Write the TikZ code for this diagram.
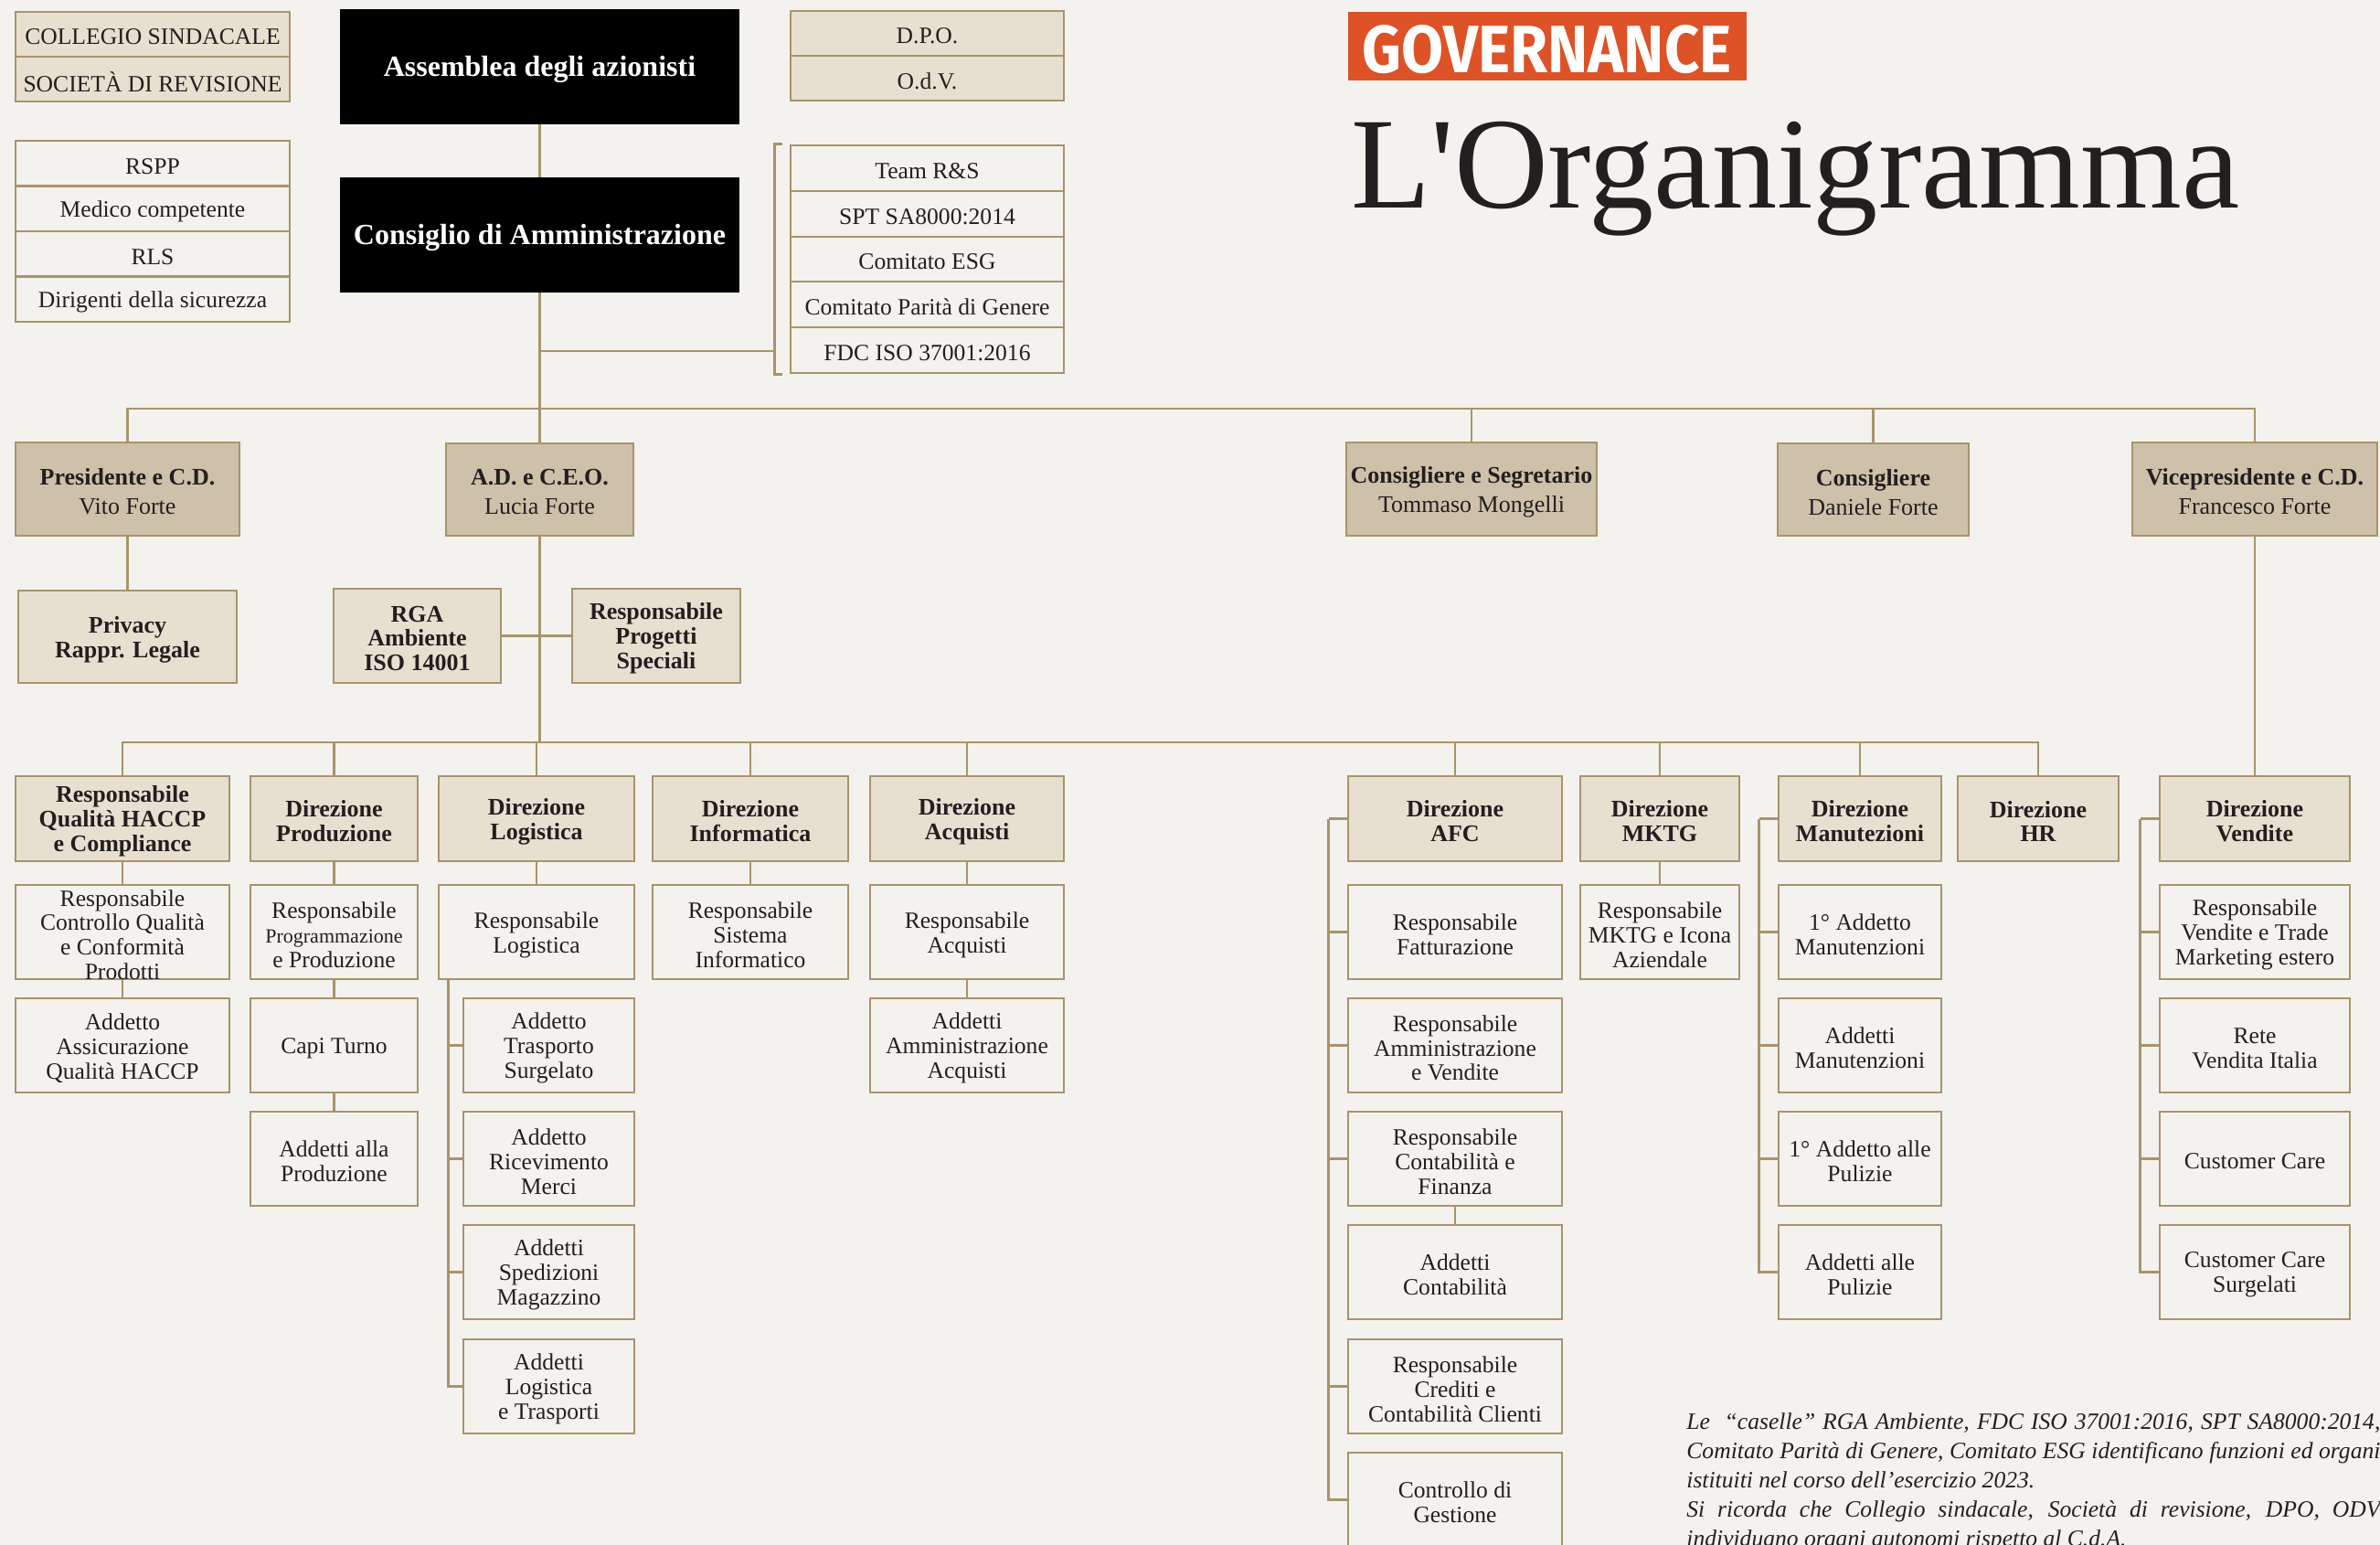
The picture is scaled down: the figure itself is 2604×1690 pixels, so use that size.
\documentclass[tikz,border=0pt]{standalone}
\usepackage{fontspec}
\setmainfont{Liberation Serif}
\setsansfont{Fira Sans}
\newfontfamily\titlefont{Liberation Serif}
\definecolor{bg}{RGB}{244,242,238}
\definecolor{tan}{RGB}{168,148,106}
\definecolor{beige}{RGB}{231,224,209}
\definecolor{khaki}{RGB}{206,193,170}
\definecolor{orng}{RGB}{221,82,38}
\definecolor{ink}{RGB}{35,31,32}
\newcommand\orgbox[7]{\node[#6, minimum width={(#4-#2)*0.5pt}, minimum height={(#5-#3)*0.5pt}] (#1) at ({(#2+#4)/2},{(#3+#5)/2}) {};
  \node[#6, draw=none, fill=none, yshift=-1.5pt] (#1t) at (#1.center) {#7};}
\begin{document}
\begin{tikzpicture}[x=0.5pt,y=-0.5pt,
  basebox/.style={inner sep=0pt, align=center, text=ink, draw=tan, line width=1.35pt},
  wbox/.style={basebox, fill=bg, font=\fontsize{12.8}{13.4}\selectfont},
  rbox/.style={basebox, fill=beige, font=\fontsize{12.8}{13.4}\selectfont},
  hbox/.style={basebox, fill=beige, font=\bfseries\fontsize{13}{13.4}\selectfont},
  kbox/.style={basebox, fill=khaki, font=\fontsize{13}{16}\selectfont},
  blk/.style={inner sep=0pt, align=center, fill=black, text=white, font=\bfseries\fontsize{16}{18}\selectfont},
  ln/.style={draw=tan, line width=1.2pt}]
\useasboundingbox (0,0) rectangle (2604,1690);
\clip (0,0) rectangle (2604,1690);
\fill[bg] (0,0) rectangle (2604,1690);

% title
\node[fill=orng, minimum width=218pt, minimum height=37.5pt, inner sep=0pt] (gov) at (1693,50.5) {};
\node[anchor=base, inner sep=0pt, text=white] (govt) at (1692.5,80) {\resizebox{202pt}{26pt}{\sffamily\bfseries GOVERNANCE}};
\node[anchor=base west, inner sep=0pt, text=ink] (title) at (1478,228) {\resizebox{486pt}{!}{\titlefont\fontsize{70}{70}\selectfont L'Organigramma}};

% top blocks
\orgbox{cs}{17}{13}{317}{62}{rbox}{COLLEGIO SINDACALE}
\orgbox{sr}{17}{62}{317}{111}{rbox}{SOCIETÀ DI REVISIONE}
\orgbox{rspp}{17}{154}{317}{203.5}{wbox}{RSPP}
\orgbox{mc}{17}{203.5}{317}{253}{wbox}{Medico competente}
\orgbox{rls}{17}{253}{317}{302.5}{wbox}{RLS}
\orgbox{ds}{17}{302.5}{317}{352}{wbox}{Dirigenti della sicurezza}
\orgbox{ass}{372}{10}{809}{136}{blk}{Assemblea degli azionisti}
\orgbox{cda}{372}{194}{809}{320}{blk}{Consiglio di Amministrazione}
\orgbox{dpo}{865}{12}{1164}{61}{rbox}{D.P.O.}
\orgbox{odv}{865}{61}{1164}{110}{rbox}{O.d.V.}
\orgbox{trs}{865}{159}{1164}{209}{wbox}{Team R\&S}
\orgbox{spt}{865}{209}{1164}{259}{wbox}{SPT SA8000:2014}
\orgbox{esg}{865}{259}{1164}{308}{wbox}{Comitato ESG}
\orgbox{cpg}{865}{308}{1164}{358}{wbox}{Comitato Parità di Genere}
\orgbox{fdc}{865}{358}{1164}{408}{wbox}{FDC ISO 37001:2016}

% level 2
\orgbox{pres}{17}{484}{262}{586}{kbox}{\textbf{Presidente e C.D.}\\Vito Forte}
\orgbox{ad}{488}{485}{693}{586}{kbox}{\textbf{A.D. e C.E.O.}\\Lucia Forte}
\orgbox{cons}{1473}{484}{1747}{586}{kbox}{\textbf{Consigliere e Segretario}\\Tommaso Mongelli}
\orgbox{cons2}{1945}{485}{2154}{586}{kbox}{\textbf{Consigliere}\\Daniele Forte}
\orgbox{vice}{2333}{484}{2601}{586}{kbox}{\textbf{Vicepresidente e C.D.}\\Francesco Forte}

\orgbox{priv}{20}{646}{259}{747}{hbox}{Privacy\\Rappr. Legale}
\orgbox{rga}{365}{644}{548}{747}{hbox}{RGA\\Ambiente\\ISO 14001}
\orgbox{rps}{626}{644}{810}{747}{hbox}{Responsabile\\Progetti\\Speciali}

% level 3
\orgbox{qual}{17}{849}{251}{942}{hbox}{Responsabile\\Qualità HACCP\\e Compliance}
\orgbox{prod}{274}{849}{457}{942}{hbox}{Direzione\\Produzione}
\orgbox{logi}{480}{849}{694}{942}{hbox}{Direzione\\Logistica}
\orgbox{info}{714}{849}{928}{942}{hbox}{Direzione\\Informatica}
\orgbox{acq}{952}{849}{1164}{942}{hbox}{Direzione\\Acquisti}
\orgbox{afc}{1475}{849}{1709}{942}{hbox}{Direzione\\AFC}
\orgbox{mktg}{1729}{849}{1903}{942}{hbox}{Direzione\\MKTG}
\orgbox{man}{1946}{849}{2124}{942}{hbox}{Direzione\\Manutezioni}
\orgbox{hr}{2142}{849}{2318}{942}{hbox}{Direzione\\HR}
\orgbox{ven}{2363}{849}{2571}{942}{hbox}{Direzione\\Vendite}

% level 4
\orgbox{q1}{17}{968}{251}{1071}{wbox}{Responsabile\\Controllo Qualità\\e Conformità\\Prodotti}
\orgbox{q2}{17}{1092}{251}{1195}{wbox}{Addetto\\Assicurazione\\Qualità HACCP}
\orgbox{p1}{274}{968}{457}{1071}{wbox}{Responsabile\\{\fontsize{11}{12}\selectfont Programmazione}\\e Produzione}
\orgbox{p2}{274}{1092}{457}{1195}{wbox}{Capi Turno}
\orgbox{p3}{274}{1216}{457}{1319}{wbox}{Addetti alla\\Produzione}
\orgbox{l0}{480}{968}{694}{1071}{wbox}{Responsabile\\Logistica}
\orgbox{la1}{507}{1092}{694}{1195}{wbox}{Addetto\\Trasporto\\Surgelato}
\orgbox{la2}{507}{1216}{694}{1319}{wbox}{Addetto\\Ricevimento\\Merci}
\orgbox{la3}{507}{1340}{694}{1443}{wbox}{Addetti\\Spedizioni\\Magazzino}
\orgbox{la4}{507}{1465}{694}{1568}{wbox}{Addetti\\Logistica\\e Trasporti}
\orgbox{i1}{714}{968}{928}{1071}{wbox}{Responsabile\\Sistema\\Informatico}
\orgbox{a1}{952}{968}{1164}{1071}{wbox}{Responsabile\\Acquisti}
\orgbox{a2}{952}{1092}{1164}{1195}{wbox}{Addetti\\Amministrazione\\Acquisti}
\orgbox{f1}{1475}{968}{1709}{1071}{wbox}{Responsabile\\Fatturazione}
\orgbox{f2}{1475}{1092}{1709}{1195}{wbox}{Responsabile\\Amministrazione\\e Vendite}
\orgbox{f3}{1475}{1216}{1709}{1319}{wbox}{Responsabile\\Contabilità e\\Finanza}
\orgbox{f4}{1475}{1340}{1709}{1443}{wbox}{Addetti\\Contabilità}
\orgbox{f5}{1475}{1465}{1709}{1568}{wbox}{Responsabile\\Crediti e\\Contabilità Clienti}
\orgbox{f6}{1475}{1589}{1709}{1692}{wbox}{Controllo di\\Gestione}
\orgbox{m1}{1729}{968}{1903}{1071}{wbox}{Responsabile\\MKTG e Icona\\Aziendale}
\orgbox{n1}{1946}{968}{2124}{1071}{wbox}{1° Addetto\\Manutenzioni}
\orgbox{n2}{1946}{1092}{2124}{1195}{wbox}{Addetti\\Manutenzioni}
\orgbox{n3}{1946}{1216}{2124}{1319}{wbox}{1° Addetto alle\\Pulizie}
\orgbox{n4}{1946}{1340}{2124}{1443}{wbox}{Addetti alle\\Pulizie}
\orgbox{v1}{2363}{968}{2571}{1071}{wbox}{Responsabile\\Vendite e Trade\\Marketing estero}
\orgbox{v2}{2363}{1092}{2571}{1195}{wbox}{Rete\\Vendita Italia}
\orgbox{v3}{2363}{1216}{2571}{1319}{wbox}{Customer Care}
\orgbox{v4}{2363}{1340}{2571}{1443}{wbox}{Customer Care\\Surgelati}

% connectors
\coordinate (h1) at (0,447);
\coordinate (h2) at (0,812);
\coordinate (hbr) at (849,384);
\draw[ln] (ass.south) -- (cda.north);
\draw[ln] (cda.south) -- (ad.north);
\draw[ln] (pres.north) -- (pres.north |- h1) -- (vice.north |- h1) -- (vice.north);
\draw[ln] (cons.north) -- (cons.north |- h1);
\draw[ln] (cons2.north) -- (cons2.north |- h1);
\draw[ln] (cda.south |- hbr) -- (hbr);
\draw[ln] ([xshift=-4pt]trs.north west) -- ([xshift=-8pt]trs.north west) -- ([xshift=-8pt]fdc.south west) -- ([xshift=-4pt]fdc.south west);
\draw[ln] (pres.south) -- (priv.north);
\draw[ln] (ad.south) -- (ad.south |- h2);
\draw[ln] (rga.east) -- (rps.west);
\draw[ln] (qual.north) -- (qual.north |- h2) -- (hr.north |- h2) -- (hr.north);
\foreach \n in {prod,logi,info,acq,afc,mktg,man}{\draw[ln] (\n.north) -- (\n.north |- h2);}
\draw[ln] (vice.south) -- (ven.north);
\draw[ln] (qual.south) -- (q1.north);
\draw[ln] (q1.south) -- (q2.north);
\draw[ln] (prod.south) -- (p1.north);
\draw[ln] (p1.south) -- (p2.north);
\draw[ln] (p2.south) -- (p3.north);
\draw[ln] (logi.south) -- (l0.north);
\draw[ln] (info.south) -- (i1.north);
\draw[ln] (acq.south) -- (a1.north);
\draw[ln] (a1.south) -- (a2.north);
\draw[ln] (mktg.south) -- (m1.north);
\draw[ln] (f3.south) -- (f4.north);
\coordinate (lb) at ([xshift=6pt]l0.south west);
\foreach \n in {la1,la2,la3,la4}{\draw[ln] (lb) |- (\n.west);}
\coordinate (fb) at ([xshift=-10pt]afc.west);
\draw[ln] (afc.west) -- (fb);
\foreach \n in {f1,f2,f3,f5,f6}{\draw[ln] (fb) |- (\n.west);}
\coordinate (nb) at ([xshift=-10pt]man.west);
\draw[ln] (man.west) -- (nb);
\foreach \n in {n1,n2,n3,n4}{\draw[ln] (nb) |- (\n.west);}
\coordinate (vb) at ([xshift=-10pt]ven.west);
\draw[ln] (ven.west) -- (vb);
\foreach \n in {v1,v2,v3,v4}{\draw[ln] (vb) |- (\n.west);}

% footnote
\begin{scope}[every node/.style={anchor=base west, inner sep=0pt, text=ink, font=\itshape\fontsize{12.8}{16}\selectfont}]
\node (nt1) at (1845,1563) {\makebox[379.5pt][s]{Le \ “caselle” RGA Ambiente, FDC ISO 37001:2016, SPT SA8000:2014,}};
\node (nt2) at (1845,1595) {\makebox[379.5pt][s]{Comitato Parità di Genere, Comitato ESG identificano funzioni ed organi}};
\node (nt3) at (1845,1627) {istituiti nel corso dell’esercizio 2023.};
\node (nt4) at (1845,1659) {\makebox[379.5pt][s]{Si ricorda che Collegio sindacale, Società di revisione, DPO, ODV}};
\node (nt5) at (1845,1691) {individuano organi autonomi rispetto al C.d.A.};
\end{scope}
\end{tikzpicture}
\end{document}
